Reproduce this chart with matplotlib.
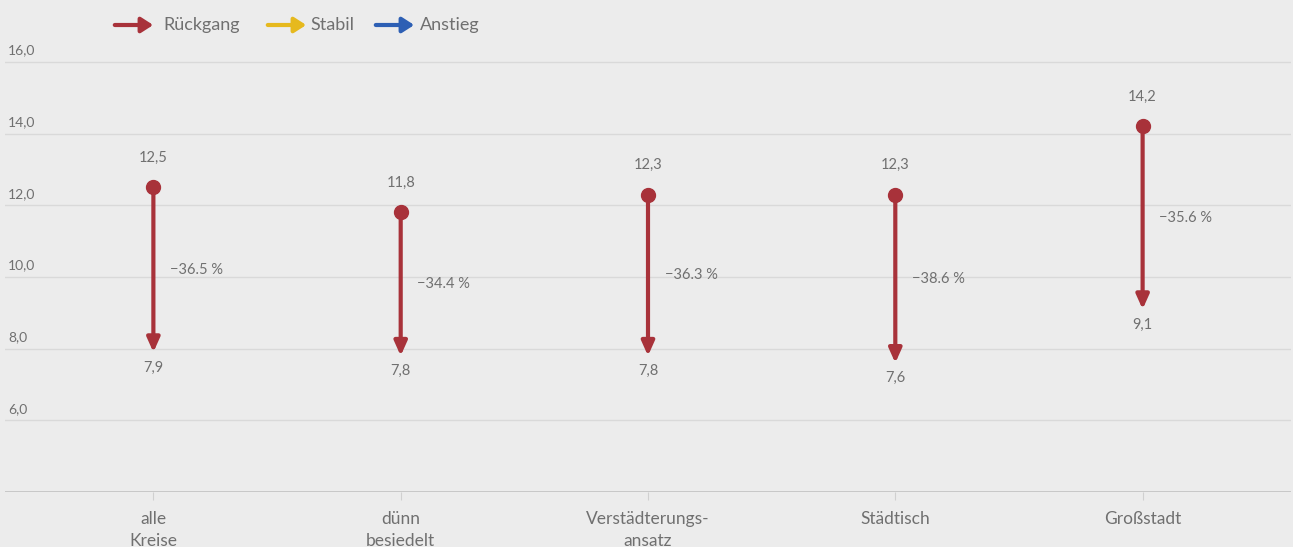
import matplotlib.pyplot as plt
import matplotlib.transforms as mtransforms
from matplotlib.patches import FancyArrowPatch

categories = ["alle\nKreise", "dünn\nbesiedelt", "Verstädterungs-\nansatz", "Städtisch", "Großstadt"]
start_values = [12.5, 11.8, 12.3, 12.3, 14.2]
end_values = [7.9, 7.8, 7.8, 7.6, 9.1]
change_labels = ["\u221236.5 %", "\u221234.4 %", "\u221236.3 %", "\u221238.6 %", "\u221235.6 %"]
y_ticks = [6, 8, 10, 12, 14, 16]

bg = "#ececec"
red = "#a8323a"
gold = "#e6b91e"
blue = "#2d5fb4"
txt = "#707070"

plt.rcParams['font.family'] = ['Lato', 'DejaVu Sans']

fig = plt.figure(figsize=(12.93, 5.47), dpi=100, facecolor=bg)
ax = fig.add_axes([5 / 1293, 55 / 547, 1286 / 1293, 492 / 547], facecolor=bg)
ax.set_xlim(-0.6, 4.6)
ax.set_ylim(4, 17.73)

for s in ax.spines.values():
    s.set_visible(False)
ax.axhline(4, color="#c4c4c4", lw=2, zorder=1)
for t in y_ticks:
    ax.axhline(t, color="#d9d9d9", lw=1, zorder=0)
trans = mtransforms.blended_transform_factory(fig.transFigure, ax.transData)
for t in y_ticks:
    ax.text(8 / 1293, t + 0.15, f"{t:.1f}".replace(".", ","), transform=trans,
            fontsize=10, color=txt, ha="left", va="bottom")

ax.set_yticks([])
x = list(range(len(categories)))
ax.set_xticks(x)
ax.set_xticklabels(categories, fontsize=12.5, color=txt, linespacing=1.45)
ax.tick_params(axis="x", length=6, color="#d0d0d0", pad=8)

for i in x:
    s, e = start_values[i], end_values[i]
    ax.annotate("", xy=(i, e), xytext=(i, s),
                arrowprops=dict(arrowstyle="-|>,head_length=0.85,head_width=0.38",
                                color=red, lw=3, shrinkA=0, shrinkB=0), zorder=3)
    ax.plot(i, s, "o", color=red, ms=10, zorder=4)
    ax.annotate(f"{s:.1f}".replace(".", ","), (i, s), xytext=(0, 16), textcoords="offset points",
                ha="center", va="bottom", fontsize=10.5, color=txt)
    ax.annotate(f"{e:.1f}".replace(".", ","), (i, e), xytext=(0, -6), textcoords="offset points",
                ha="center", va="top", fontsize=10.5, color=txt)
    ax.annotate(change_labels[i], (i, (s + e) / 2), xytext=(12, 0), textcoords="offset points",
                ha="left", va="center", fontsize=10.5, color=txt)

# legend
legend = [("Rückgang", red, 112, 163), ("Stabil", gold, 265, 310), ("Anstieg", blue, 373, 420)]
for label, c, x0, xt in legend:
    fig.patches.append(FancyArrowPatch(
        (x0 / 1293, 1 - 25 / 547), ((x0 + 44) / 1293, 1 - 25 / 547), transform=fig.transFigure,
        arrowstyle="-|>,head_length=7,head_width=4.5", color=c, lw=3, mutation_scale=1))
    fig.text(xt / 1293, 1 - 25 / 547, label, fontsize=13, color=txt, ha="left", va="center")

fig.savefig("out.png", dpi=100, facecolor=bg)
